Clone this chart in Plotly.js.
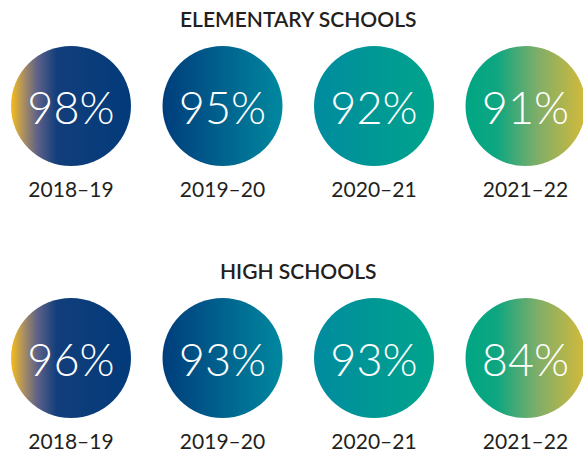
<!DOCTYPE html>
<html><head><meta charset="utf-8">
<script src="https://cdn.plot.ly/plotly-3.0.1.min.js"></script>
<style>html,body{margin:0;padding:0;background:#fff;} #chart{width:583px;height:454px;}</style>
</head><body><div id="chart"></div>
<script>
// ---- data ----
const years = ['2018–19', '2019–20', '2020–21', '2021–22'];
const elementary = [98, 95, 92, 91];
const highSchools = [96, 93, 93, 84];
const sectionTitles = ['ELEMENTARY SCHOOLS', 'HIGH SCHOOLS'];

// ---- styles / layout constants ----
const W = 583, H = 454;
const colCenter0 = 71, colStep = 151.5;
const rowCenters = [106, 358];
const titleOffset = 88, yearOffset = 86, pctOffset = 7;
const circleSize = 120;
const ink = '#231f20';
const gradientStops = [
  [[0, '#f7bc18'], [0.1, '#ae9160'], [0.22, '#5e6188'], [0.38, '#123e7b'], [1, '#023a7a']],
  [[0, '#003d7c'], [1, '#00889f']],
  [[0, '#008b9f'], [1, '#00a48b']],
  [[0, '#00a683'], [0.26, '#0da681'], [0.6, '#7fae68'], [1, '#d4ba3a']]
];
const leftColors = gradientStops.map(g => g[0][1]);
const rightColors = gradientStops.map(g => g[g.length - 1][1]);

const rows = [elementary, highSchools];
const data = [];
rows.forEach((vals, r) => {
  data.push({
    type: 'scatter', mode: 'markers', x: years, y: years.map(() => rowCenters[r]),
    marker: {size: circleSize, color: leftColors, line: {width: 0},
             gradient: {type: 'horizontal', color: rightColors}},
    hoverinfo: 'skip', cliponaxis: false
  });
});
rows.forEach((vals, r) => {
  data.push({
    type: 'scatter', mode: 'text', x: years, y: years.map(() => rowCenters[r] + pctOffset),
    text: vals.map(v => v + '%'), textposition: 'middle center',
    textfont: {family: 'Lato', size: 45, color: '#ffffff', weight: 300},
    hoverinfo: 'skip', cliponaxis: false
  });
  data.push({
    type: 'scatter', mode: 'text', x: years, y: years.map(() => rowCenters[r] + yearOffset),
    text: years, textposition: 'middle center',
    textfont: {family: 'Lato', size: 21, color: ink, weight: 400},
    hoverinfo: 'skip', cliponaxis: false
  });
});

const layout = {
  width: W, height: H, margin: {l: 0, r: 0, t: 0, b: 0},
  paper_bgcolor: '#ffffff', plot_bgcolor: 'rgba(0,0,0,0)', showlegend: false,
  xaxis: {type: 'category', categoryarray: years, range: [-colCenter0 / colStep, (W - colCenter0) / colStep], visible: false},
  yaxis: {range: [H, 0], visible: false},
  annotations: sectionTitles.map((t, i) => ({
    text: t, x: 1.5, xref: 'x', y: rowCenters[i] - titleOffset, yref: 'y',
    showarrow: false, xanchor: 'center', yanchor: 'middle',
    font: {family: 'Lato', size: 21, color: ink, weight: 600}
  })),
  hovermode: false
};

const gd = document.getElementById('chart');
Plotly.newPlot(gd, data, layout, {staticPlot: true, displayModeBar: false}).then(() => {
  const traces = gd.querySelectorAll('.scatterlayer .trace');
  [0, 1].forEach(ti => {
    const paths = traces[ti].querySelectorAll('.points path');
    paths.forEach((p, i) => {
      const fill = p.style.fill || p.getAttribute('fill') || '';
      const k = fill.lastIndexOf('#');
      if (k < 0) return;
      const id = fill.slice(k + 1).replace(/["')]/g, '');
      const g = document.getElementById(id);
      if (!g) return;
      g.setAttribute('x1', 0); g.setAttribute('x2', 1); g.setAttribute('y1', 0); g.setAttribute('y2', 0);
      while (g.firstChild) g.removeChild(g.firstChild);
      gradientStops[i].forEach(([o, c]) => {
        const s = document.createElementNS('http://www.w3.org/2000/svg', 'stop');
        s.setAttribute('offset', (o * 100) + '%');
        s.setAttribute('stop-color', c);
        g.appendChild(s);
      });
    });
  });
});
</script>
</body></html>
